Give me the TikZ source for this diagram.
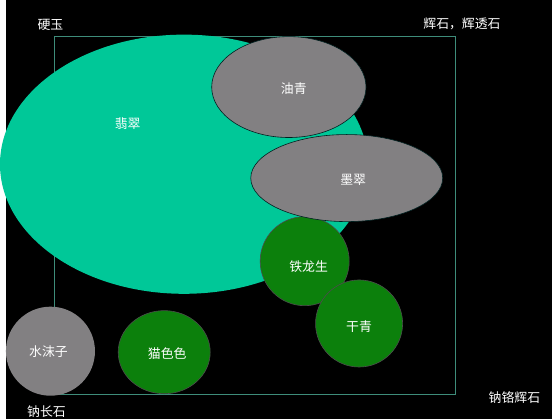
\documentclass[tikz,border=0pt]{standalone}
\usepackage{fontspec}
\newfontfamily\cjk{Noto Sans CJK SC}
\definecolor{feicui}{RGB}{0,200,152}
\definecolor{huise}{RGB}{130,128,130}
\definecolor{lvse}{RGB}{12,128,12}
\definecolor{kuang}{RGB}{62,140,122}
\tikzset{
  lbl/.style={text=white, font=\cjk\fontsize{13}{13}\selectfont, inner sep=0pt},
  grayblob/.style={fill=huise, draw=black!75!teal, line width=0.6pt},
  greenblob/.style={fill=lvse, draw=black!70, line width=0.6pt}
}
\begin{document}
\begin{tikzpicture}[x=1pt,y=-1pt]
  \fill[black] (0,0) rectangle (552,424);
  \draw[kuang, line width=1pt] (49,37) rectangle (454,399);
  % jade body and its neighbours
  \fill[feicui] (180,166) ellipse (186pt and 131pt);
  \draw[greenblob] (302,264) circle (45pt);
  \draw[greenblob] (357,327) circle (44pt);
  \draw[greenblob] (160,356) ellipse (46.5pt and 42pt);
  \draw[grayblob] (286,88) ellipse (78pt and 51pt);
  \draw[grayblob] (344.5,180) ellipse (97pt and 44pt);
  \fill[huise] (45,355) circle (45pt);
  % labels
  \node[lbl] (feicui) at (123,125) {翡翠};
  \node[lbl] (youqing) at (291,90) {油青};
  \node[lbl] (mocui) at (351,182) {墨翠};
  \node[lbl] (tielong) at (306,269) {铁龙生};
  \node[lbl] (ganqing) at (357,330) {干青};
  \node[lbl] (maose) at (163,357) {猫色色};
  \node[lbl] (shuimo) at (43,355) {水沫子};
  \node[lbl] (yingyu) at (45,25) {硬玉};
  \node[lbl] (huishi) at (461,24) {辉石，辉透石};
  \node[lbl] (nachang) at (41,416) {钠长石};
  \node[lbl] (nage) at (514,402) {钠铬辉石};
\end{tikzpicture}
\end{document}
